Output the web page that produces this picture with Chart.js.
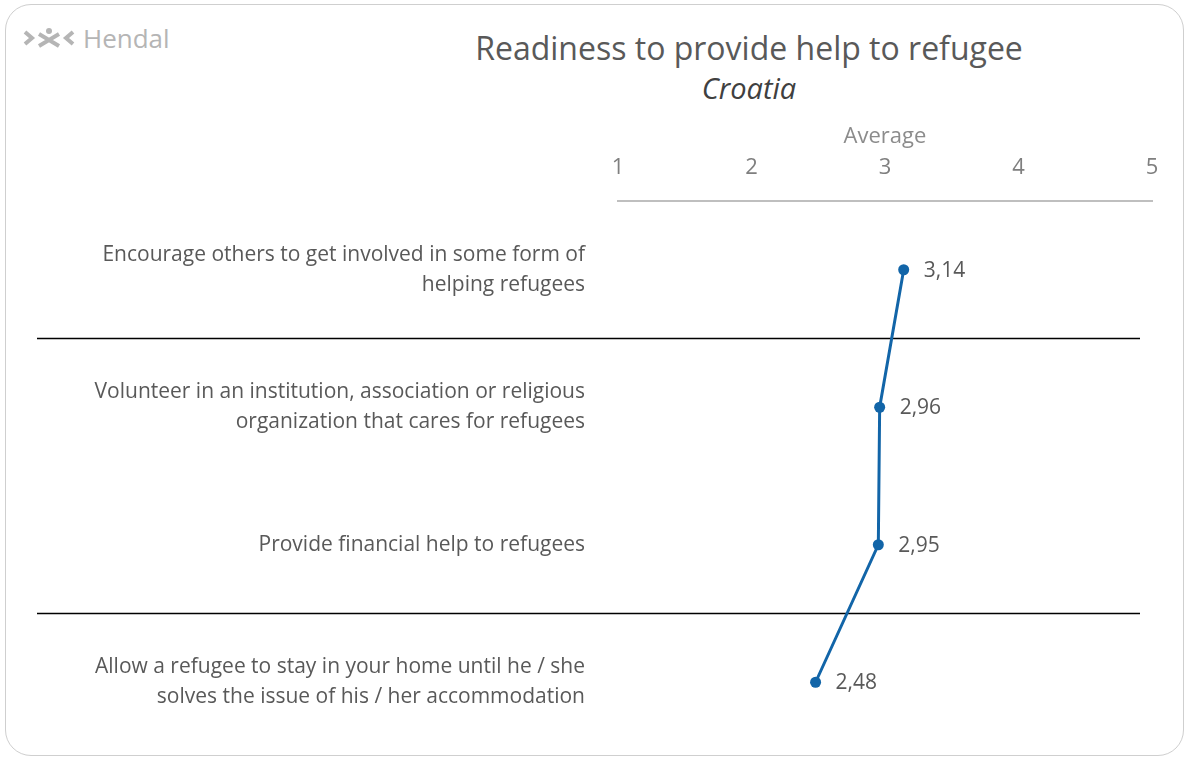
<!DOCTYPE html>
<html>
<head>
<meta charset="utf-8">
<script src="https://cdn.jsdelivr.net/npm/chart.js@4.4.1/dist/chart.umd.min.js"></script>
<style>
  html, body { margin: 0; padding: 0; background: #fff; }
  body { width: 1190px; height: 758px; position: relative; overflow: hidden; font-family: "Open Sans", sans-serif; }
  #card { position: absolute; left: 5px; top: 4px; width: 1179px; height: 752px; border: 1.5px solid #cfcfcf; border-radius: 26px; box-sizing: border-box; }
  #logo { position: absolute; left: 23px; top: 20px; display: flex; align-items: center; color: #b5b5b5; font-size: 26px; }
  #logo svg { margin-right: 8px; }
  #titre { position: absolute; left: 0; width: 1498px; top: 27px; text-align: center; color: #595959; font-size: 32px; line-height: 42px; }
  #sous { position: absolute; left: 0; width: 1498px; top: 69px; text-align: center; color: #404040; font-size: 29px; line-height: 38px; font-style: italic; }
  canvas { position: absolute; left: 0; top: 0; }
</style>
</head>
<body>
<div id="card"></div>
<div id="logo">
  <svg width="52" height="22" viewBox="0 0 52 22">
    <path d="M2 5 L9 11 L2 17" stroke="#b5b5b5" stroke-width="4" fill="none"/>
    <path d="M50 5 L43 11 L50 17" stroke="#b5b5b5" stroke-width="4" fill="none"/>
    <circle cx="26" cy="4" r="3" fill="#b5b5b5"/>
    <path d="M16 7 L36 19 M36 7 L16 19" stroke="#b5b5b5" stroke-width="4" fill="none"/>
  </svg>
  <span>Hendal</span>
</div>
<div id="titre">Readiness to provide help to refugee</div>
<div id="sous">Croatia</div>
<canvas id="graficoProntidao" width="1190" height="758"></canvas>
<script>
// Categorias (rótulos do eixo vertical, quebrados em linhas)
const categorias = [
  ['Encourage others to get involved in some form of', 'helping refugees'],
  ['Volunteer in an institution, association or religious', 'organization that cares for refugees'],
  ['Provide financial help to refugees'],
  ['Allow a refugee to stay in your home until he / she', 'solves the issue of his / her accommodation']
];
// Médias por item
const medias = [3.14, 2.96, 2.95, 2.48];
// Marcas do eixo (escala de 1 a 5)
const escalaMin = 1;
const escalaMax = 5;
// Linhas separadoras depois destas categorias
const separadoresDepois = [0, 2];

const corLinha = '#1265a8';
const corTexto = '#595959';

// Desenha as linhas pretas entre os grupos
const pluginSeparadores = {
  id: 'separadores',
  beforeDatasetsDraw(chart) {
    const ctx = chart.ctx;
    const y = chart.scales.y;
    ctx.save();
    ctx.strokeStyle = '#000';
    ctx.lineWidth = 1.5;
    separadoresDepois.forEach(i => {
      const pos = (y.getPixelForValue(i) + y.getPixelForValue(i + 1)) / 2;
      ctx.beginPath();
      ctx.moveTo(37, pos);
      ctx.lineTo(1140, pos);
      ctx.stroke();
    });
    ctx.restore();
  }
};

// Rótulos de valor à direita de cada ponto (vírgula decimal)
const pluginRotulos = {
  id: 'rotulosValor',
  afterDatasetsDraw(chart) {
    const ctx = chart.ctx;
    const meta = chart.getDatasetMeta(0);
    ctx.save();
    ctx.fillStyle = corTexto;
    ctx.font = '21px "Open Sans"';
    ctx.textAlign = 'left';
    ctx.textBaseline = 'middle';
    meta.data.forEach((pt, i) => {
      const texto = medias[i].toFixed(2).replace('.', ',');
      ctx.fillText(texto, pt.x + 20, pt.y + 1);
    });
    ctx.restore();
  }
};

new Chart(document.getElementById('graficoProntidao'), {
  type: 'line',
  data: {
    labels: categorias,
    datasets: [{
      label: 'Average',
      data: medias,
      borderColor: corLinha,
      backgroundColor: corLinha,
      borderWidth: 3,
      pointRadius: 5.5,
      pointBackgroundColor: corLinha,
      pointBorderWidth: 0,
      tension: 0,
      fill: false
    }]
  },
  options: {
    indexAxis: 'y',
    responsive: false,
    animation: false,
    layout: {
      padding: { top: 120, left: 0, right: 38, bottom: 7 }
    },
    scales: {
      x: {
        type: 'linear',
        position: 'top',
        min: escalaMin,
        max: escalaMax,
        afterFit(scale) {
          scale.height = 81;
          scale.paddingLeft = 0;
          scale.paddingRight = 0;
        },
        ticks: {
          stepSize: 1,
          padding: 20,
          color: '#7f7f7f',
          font: { family: 'Open Sans', size: 22 }
        },
        grid: { display: false, drawTicks: false },
        border: { display: true, color: '#bfbfbf', width: 2 },
        title: {
          display: true,
          text: 'Average',
          color: '#8c8c8c',
          font: { family: 'Open Sans', size: 22 },
          padding: { top: 4, bottom: 7 }
        }
      },
      y: {
        type: 'category',
        offset: true,
        afterFit(scale) {
          scale.width = 618;
          scale.paddingTop = 0;
          scale.paddingBottom = 0;
        },
        ticks: {
          padding: 33,
          color: corTexto,
          font: { family: 'Open Sans', size: 21, lineHeight: 1.45 }
        },
        grid: { display: false, drawTicks: false },
        border: { display: false }
      }
    },
    plugins: {
      legend: { display: false },
      tooltip: { enabled: false }
    }
  },
  plugins: [pluginSeparadores, pluginRotulos]
});
</script>
</body>
</html>
